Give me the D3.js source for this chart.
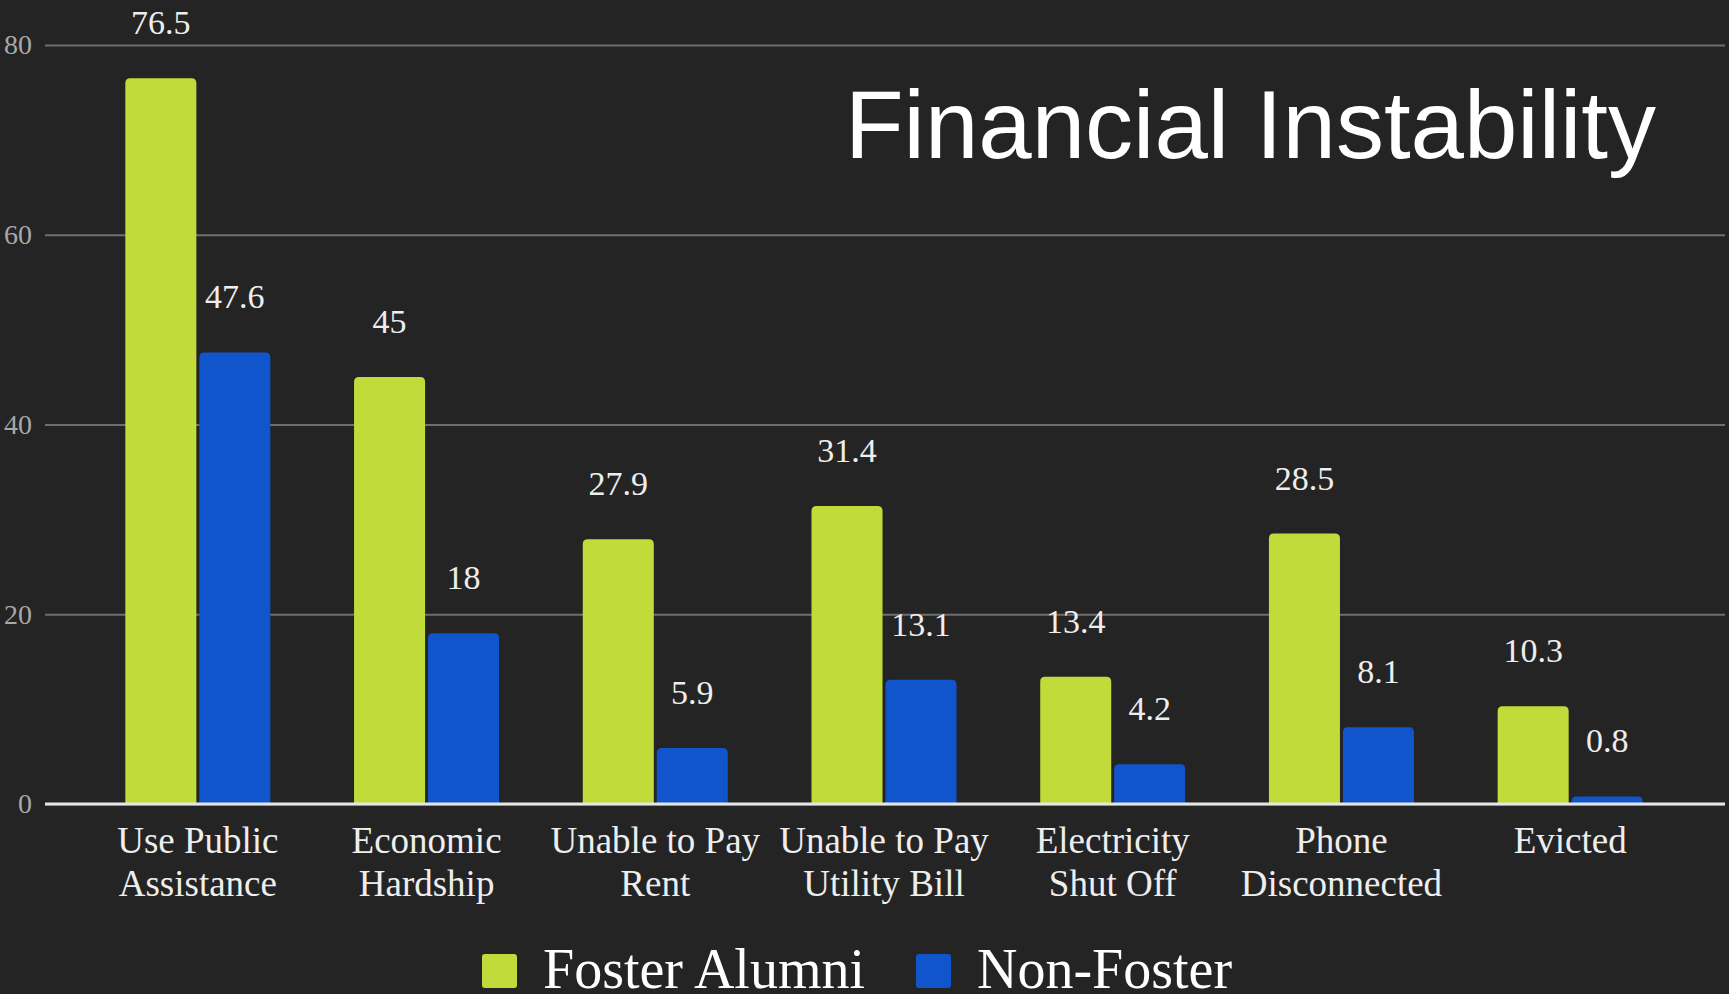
<!doctype html>
<html>
<head>
<meta charset="utf-8">
<title>Financial Instability</title>
<script src="https://d3js.org/d3.v7.min.js"></script>
<style>
  html, body { margin: 0; padding: 0; background: #242424; }
  svg { display: block; }
  .serif { font-family: "Liberation Serif", "Times New Roman", serif; }
</style>
</head>
<body>
<div id="chart"></div>
<script>
const categories = ["Use Public Assistance", "Economic Hardship", "Unable to Pay Rent",
  "Unable to Pay Utility Bill", "Electricity Shut Off", "Phone Disconnected", "Evicted"];
const categoryLines = [["Use Public", "Assistance"], ["Economic", "Hardship"], ["Unable to Pay", "Rent"],
  ["Unable to Pay", "Utility Bill"], ["Electricity", "Shut Off"], ["Phone", "Disconnected"], ["Evicted"]];
const fosterAlumni = [76.5, 45, 27.9, 31.4, 13.4, 28.5, 10.3];
const nonFoster = [47.6, 18, 5.9, 13.1, 4.2, 8.1, 0.8];
const seriesNames = ["Foster Alumni", "Non-Foster"];
const yTicks = [0, 20, 40, 60, 80];

const w = 1729, h = 994;
const plotLeft = 45, plotRight = 1725, plotTop = 45, plotBottom = 804;
const colors = ["#c1dc3a", "#1155cc"];

const svg = d3.select("#chart").append("svg")
  .attr("width", w).attr("height", h);

svg.append("rect").attr("width", w).attr("height", h).attr("fill", "#242424");

const y = d3.scaleLinear().domain([0, 80]).range([plotBottom, plotTop]);
const x0 = d3.scaleBand().domain(categories).range([plotLeft - 2, plotRight])
  .paddingInner(0.366).paddingOuter(0.36);
const x1 = d3.scaleBand().domain([0, 1]).range([0, x0.bandwidth()]).paddingInner(0.04);

// gridlines + tick labels
const yAxis = d3.axisLeft(y).tickValues(yTicks).tickSize(-(plotRight - plotLeft)).tickPadding(13);
const gy = svg.append("g").attr("transform", "translate(" + plotLeft + ",0)").call(yAxis);
gy.select(".domain").remove();
gy.selectAll(".tick line").attr("stroke", "#6e6e6e").attr("stroke-width", 2);
gy.selectAll(".tick text")
  .attr("class", "serif")
  .attr("fill", "#a8a8a8")
  .style("font-size", "28px");

// rounded-top bar
function barPath(x, yTop, bw, bh, r) {
  r = Math.min(r, bh, bw / 2);
  return "M" + x + "," + (yTop + bh) + "V" + (yTop + r) +
    "Q" + x + "," + yTop + " " + (x + r) + "," + yTop +
    "H" + (x + bw - r) +
    "Q" + (x + bw) + "," + yTop + " " + (x + bw) + "," + (yTop + r) +
    "V" + (yTop + bh) + "Z";
}

const series = [fosterAlumni, nonFoster];
const groups = svg.append("g").selectAll("g")
  .data(categories)
  .join("g")
  .attr("transform", d => "translate(" + x0(d) + ",0)");

groups.selectAll("path")
  .data((d, i) => series.map((s, k) => ({k: k, v: s[i]})))
  .join("path")
  .attr("fill", d => colors[d.k])
  .attr("d", d => barPath(x1(d.k), y(d.v), x1.bandwidth(), plotBottom - y(d.v), 5));

groups.selectAll("text.val")
  .data((d, i) => series.map((s, k) => ({k: k, v: s[i]})))
  .join("text")
  .attr("class", "val serif")
  .attr("x", d => x1(d.k) + x1.bandwidth() / 2)
  .attr("y", d => y(d.v) - 44)
  .attr("text-anchor", "middle")
  .attr("fill", "#eeeeee")
  .style("font-size", "34px")
  .text(d => d.v);

// baseline
svg.append("line")
  .attr("x1", plotLeft).attr("x2", plotRight)
  .attr("y1", y(0)).attr("y2", y(0))
  .attr("stroke", "#e6e6e6").attr("stroke-width", 3);

// category labels
const catText = svg.append("g").selectAll("text")
  .data(categories)
  .join("text")
  .attr("class", "serif")
  .attr("text-anchor", "middle")
  .attr("fill", "#eeeeee")
  .style("font-size", "37px")
  .attr("transform", d => "translate(" + (x0(d) + x0.bandwidth() / 2) + ",853)");
catText.selectAll("tspan")
  .data((d, i) => categoryLines[i])
  .join("tspan")
  .attr("x", 0)
  .attr("y", (d, j) => j * 43)
  .text(d => d);

// title
svg.append("text")
  .attr("x", 1656).attr("y", 158)
  .attr("text-anchor", "end")
  .attr("fill", "#ffffff")
  .style("font-family", "'Liberation Sans', Arial, sans-serif")
  .style("font-size", "96px")
  .text("Financial Instability");

// legend
const legendX = [482, 916];
const leg = svg.append("g").selectAll("g")
  .data(seriesNames)
  .join("g")
  .attr("transform", (d, i) => "translate(" + legendX[i] + ",954)");
leg.append("rect")
  .attr("width", 35).attr("height", 34).attr("rx", 3)
  .attr("fill", (d, i) => colors[i]);
leg.append("text")
  .attr("class", "serif")
  .attr("x", 61).attr("y", 34)
  .attr("fill", "#ffffff")
  .style("font-size", "56px")
  .text(d => d);
</script>
</body>
</html>
